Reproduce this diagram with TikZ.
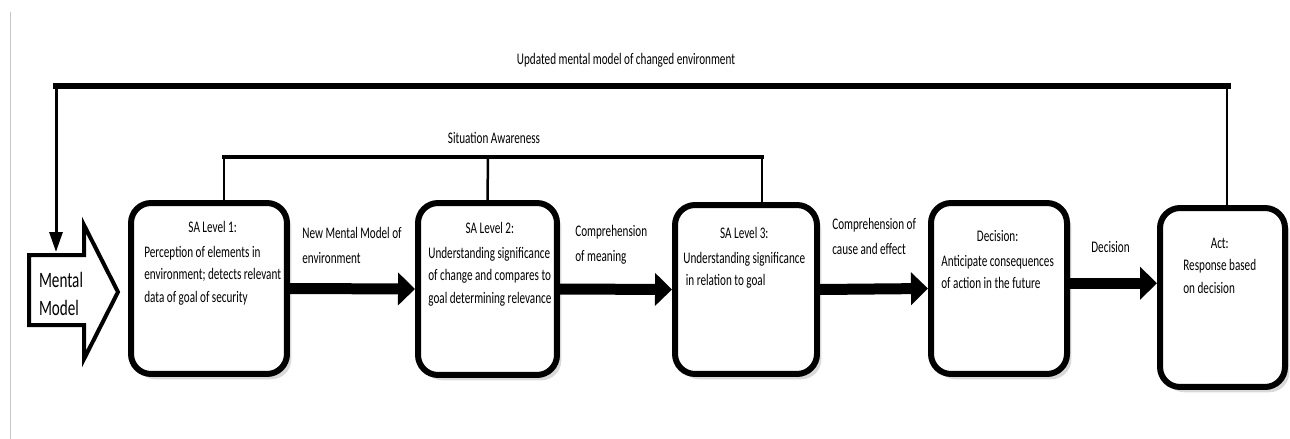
\documentclass[tikz,border=0pt]{standalone}
\usepackage{fontspec}
\setmainfont{Carlito}[FakeStretch=0.69]
\usetikzlibrary{arrows.meta}
\usetikzlibrary{shadows}

\newcommand{\boxtitle}[1]{\multicolumn{1}{@{}c@{}}{#1}}

\begin{document}
\begin{tikzpicture}[x=0.02cm, y=-0.02cm,
roundednode/.style={rectangle, draw=black, fill=white, line width=0.12cm, rounded corners=0.4cm, drop shadow={shadow xshift=2.5pt, shadow yshift=-3pt, opacity=0.3}},
boxtext/.style={anchor=north west, inner sep=0pt, font={\fontsize{9.2}{12.8}\selectfont}},
arrowtext/.style={anchor=north west, inner sep=0pt, align=left, font={\fontsize{9.2}{14.2}\selectfont}},
toptext/.style={inner sep=0pt, font={\fontsize{9.2}{12.8}\selectfont}},
fat arrow/.style={line width=0.22cm, -{Triangle[length=0.34cm, width=0.64cm]}},
feedback arrow/.style={line width=0.06cm, -{Triangle[length=0.4cm, width=0.26cm]}},
block arrow/.style={draw=black, fill=white, line width=0.08cm, line join=miter}
]
\useasboundingbox (0,0) rectangle (1290,439);
\draw[gray!45, line width=0.02cm] (10,12) -- (10,439);

%Mental model arrow
\draw[block arrow] (29,255) -- (84,255) -- (84,225) -- (118,292) -- (84,359) -- (84,325) -- (29,325) -- cycle;
\node[align=left, inner sep=0pt, font={\fontsize{12.5}{16.4}\selectfont}] at (61,294) (MODEL) {Mental\\Model};
\coordinate (MODELTOP) at (56,252);

%Nodes
\node[roundednode, minimum width=3.12cm, minimum height=3.42cm] at (209,288.5) (SA1) {};
\node[roundednode, minimum width=2.78cm, minimum height=3.44cm] at (487.5,289) (SA2) {};
\node[roundednode, minimum width=2.84cm, minimum height=3.38cm] at (746,289.5) (SA3) {};
\node[roundednode, minimum width=2.72cm, minimum height=3.42cm] at (999,288.5) (DECIDE) {};
\node[roundednode, minimum width=2.5cm, minimum height=3.58cm] at (1222.5,297.5) (ACT) {};

\node[boxtext] at (144,216) (SA1TXT) {\begin{tabular}{@{}l@{}}\boxtitle{SA Level 1:}\\[1.5pt] Perception of elements in\\ environment; detects relevant\\ data of goal of security\end{tabular}};
\node[boxtext] at (428,217) (SA2TXT) {\begin{tabular}{@{}l@{}}\boxtitle{SA Level 2:}\\[1.5pt] Understanding significance\\ of change and compares to\\ goal determining relevance\end{tabular}};
\node[boxtext] at (683,222) (SA3TXT) {\begin{tabular}{@{}l@{}}\boxtitle{SA Level 3:}\\[1.5pt] Understanding significance\\ \ in relation to goal\end{tabular}};
\node[boxtext] at (941,225) (DECIDETXT) {\begin{tabular}{@{}l@{}}\boxtitle{Decision:}\\[1.5pt] Anticipate consequences\\ of action in the future\end{tabular}};
\node[boxtext] at (1183,232) (ACTTXT) {\begin{tabular}{@{}l@{}}\boxtitle{Act:}\\ Response based\\ on decision\end{tabular}};

\node[arrowtext] at (302,227) (NEWMODEL) {New Mental Model of\\ environment};
\node[arrowtext] at (575,225) (MEANING) {Comprehension\\ of meaning};
\node[arrowtext] at (832,218) (CAUSE) {Comprehension of\\ cause and effect};
\node[arrowtext] at (1091,241) (DECISION) {Decision};

\node[toptext] at (626,60) (UPDATED) {Updated mental model of changed environment};
\node[toptext] at (494,138) (SITUATION) {Situation Awareness};

%Lines
\draw[fat arrow] (SA1.east) -- (SA2.west);
\draw[fat arrow] (SA2.east) -- (SA3.west);
\draw[fat arrow] (SA3.east) -- (DECIDE.west);
\draw[fat arrow] ([yshift=3pt]DECIDE.east) -- ([yshift=3pt]DECIDE.east -| ACT.west);

\coordinate (SAL) at (224,157);
\coordinate (SAM) at (488,157);
\coordinate (SAR) at (762,157);
\draw[line width=0.08cm, line cap=rect] (SAL) -- (SAR);
\draw[line width=0.05cm] (SAL) -- (SAL |- SA1.north);
\draw[line width=0.05cm] (SAM) -- (SA2.north);
\draw[line width=0.05cm] (SAR) -- (SAR |- SA3.north);

\coordinate (UPL) at (56,86);
\coordinate (UPR) at (1227,86);
\draw[line width=0.14cm, line cap=rect] (UPL) -- (UPR);
\draw[line width=0.05cm] (UPR) -- (UPR |- ACT.north);
\draw[feedback arrow] (UPL) -- (MODELTOP);
\end{tikzpicture}
\end{document}
